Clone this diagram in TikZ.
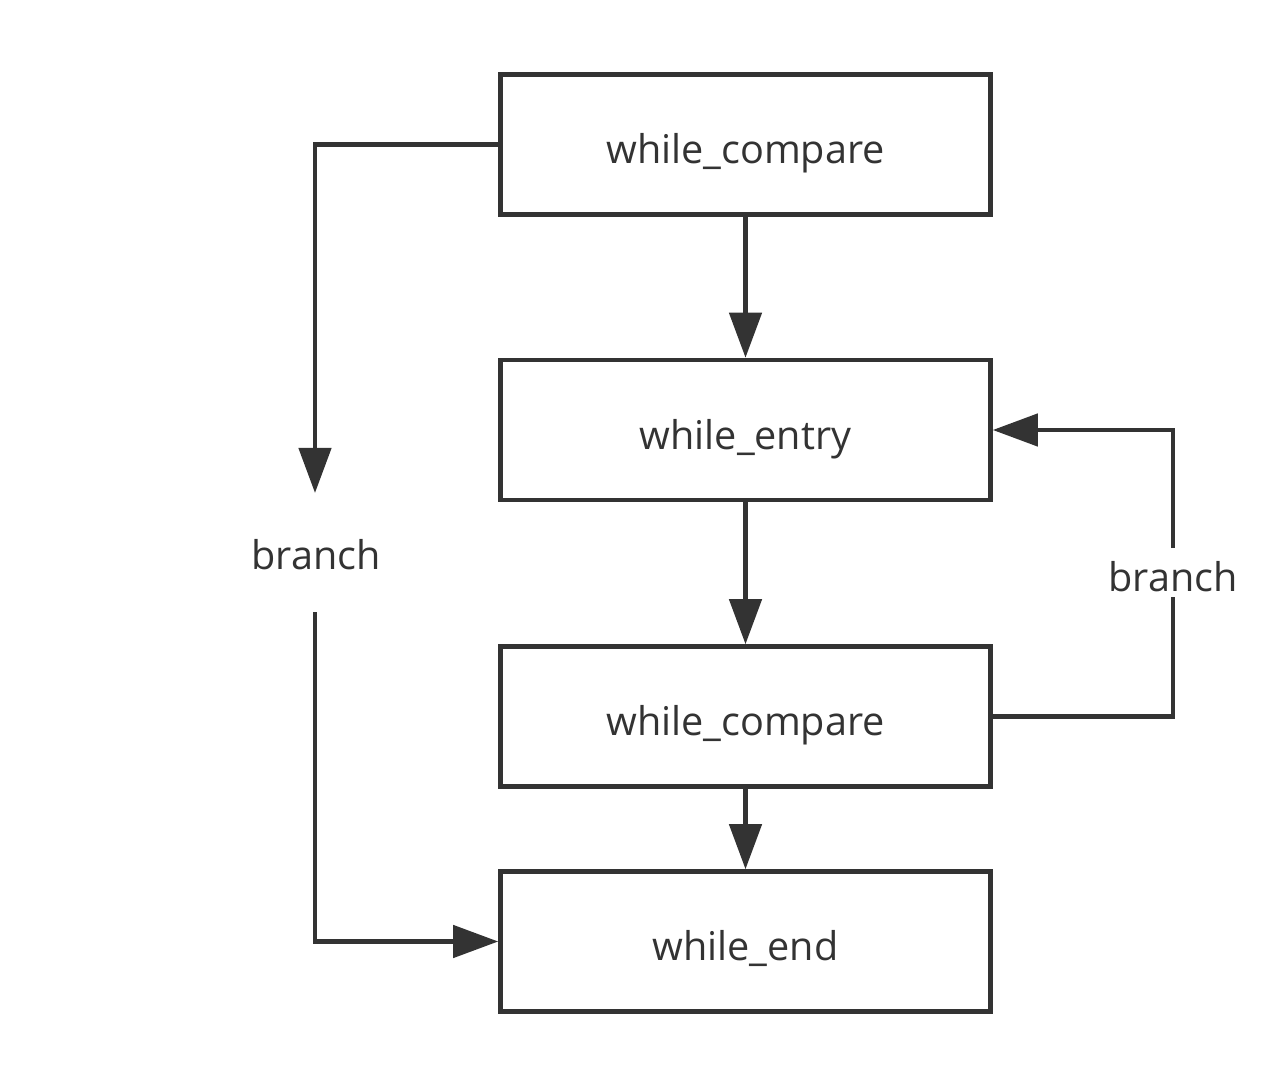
\documentclass[tikz,border=0pt]{standalone}
\usepackage{fontspec}
\setmainfont{Open Sans}
\usetikzlibrary{arrows.meta}
\definecolor{ink}{HTML}{333333}
\begin{document}
\begin{tikzpicture}[x=0.75pt,y=-0.75pt,
  blk/.style={draw=ink, line width=3.4pt, minimum width=367.5pt, minimum height=105pt, inner sep=0pt, text=ink, text height=29pt, text depth=0pt, font=\fontsize{29.7}{35}\selectfont},
  con/.style={draw=ink, line width=3.4pt},
  arr/.style={con, -{Triangle[length=33.75pt,width=24pt]}},
  lbl/.style={text=ink, inner sep=0pt, font=\fontsize{29.7}{35}\selectfont}]
\useasboundingbox (0,0) rectangle (1283,1084);
\node[blk] (c1) at (745.5,144.5) {while\_compare};
\node[blk] (c2) at (745.5,430) {while\_entry};
\node[blk] (c3) at (745.5,716.5) {while\_compare};
\node[blk] (c4) at (745.5,941.5) {while\_end};
\coordinate (lt) at (315,493);
\coordinate (lb) at (315,612);
\node[lbl] (bl) at (316,555) {branch};
\coordinate (rt) at (1173,548);
\coordinate (rb) at (1173,597);
\node[lbl] (br) at (1173,577) {branch};
\draw[arr] (c1.south) -- (c2.north);
\draw[arr] (c2.south) -- (c3.north);
\draw[arr] (c3.south) -- (c4.north);
\draw[arr] (c1.west) -| (lt);
\draw[arr] (lb) |- (c4.west);
\draw[con] (c3.east) -| (rb);
\draw[arr] (rt) |- (c2.east);
\end{tikzpicture}
\end{document}
